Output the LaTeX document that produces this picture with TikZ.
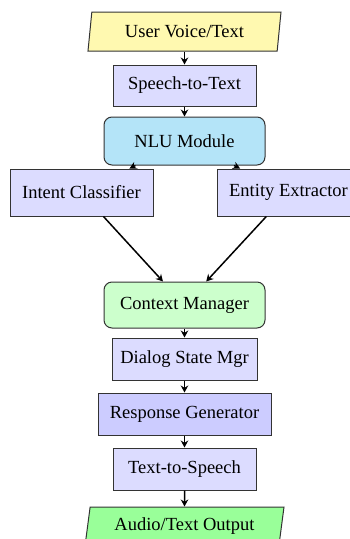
\documentclass[tikz,border=0pt]{standalone}
\usepackage{fontspec}
\setmainfont{Liberation Serif}
\usetikzlibrary{arrows.meta,shapes.geometric}

\definecolor{inputfill}{HTML}{FFF9B0}
\definecolor{procfill}{HTML}{DCDCFF}
\definecolor{genfill}{HTML}{CCCCFF}
\definecolor{nlufill}{HTML}{B4E4F8}
\definecolor{ctxfill}{HTML}{CCFFCC}
\definecolor{outfill}{HTML}{99FF99}
\definecolor{edge}{HTML}{333333}

\tikzset{
  base/.style={draw=edge, line width=1pt, font=\fontsize{18.5}{22}\selectfont, inner sep=0pt},
  procbox/.style={base, rectangle, fill=procfill},
  roundbox/.style={base, rectangle, rounded corners=8pt},
  iobox/.style={base, trapezium, trapezium left angle=73, trapezium right angle=107,
    trapezium stretches body},
  flow/.style={-{Stealth[length=7pt,width=7.5pt]}, line width=1.5pt, black},
}

\begin{document}
\begin{tikzpicture}[x=1pt, y=-1pt]
  \clip (0,0) rectangle (350,539);
  \useasboundingbox (0,0) rectangle (350,539);

  % input and output
  \node[iobox, fill=inputfill, minimum width=193pt, minimum height=39pt] (in) at (184.5,31.5) {User Voice/Text};
  \node[iobox, fill=outfill, minimum width=199pt, minimum height=39pt] (out) at (184.5,526.5) {Audio/Text Output};

  % processing stages
  \node[procbox, minimum width=143pt, minimum height=41pt] (stt) at (184.5,85.5) {Speech-to-Text};
  \node[roundbox, fill=nlufill, minimum width=161pt, minimum height=48pt] (nlu) at (184.5,141) {NLU Module};
  \node[procbox, minimum width=143pt, minimum height=47pt] (intent) at (81.5,192.5) {Intent Classifier};
  \node[procbox, minimum width=143pt, minimum height=47pt] (entity) at (288.5,192.5) {Entity Extractor};
  \node[roundbox, fill=ctxfill, minimum width=161pt, minimum height=46pt] (ctx) at (184.5,305) {Context Manager};
  \node[procbox, minimum width=145pt, minimum height=42pt] (dsm) at (184.5,359) {Dialog State Mgr};
  \node[procbox, fill=genfill, minimum width=173pt, minimum height=42pt] (rg) at (184.5,414) {Response Generator};
  \node[procbox, minimum width=143pt, minimum height=42pt] (tts) at (184.5,469) {Text-to-Speech};

  % connectors
  \draw[flow] (in) -- (stt);
  \draw[flow] (stt) -- (nlu);
  \draw[flow] (nlu) -- (intent);
  \draw[flow] (nlu) -- (entity);
  \draw[flow] (intent) -- (ctx);
  \draw[flow] (entity) -- (ctx);
  \draw[flow] (ctx) -- (dsm);
  \draw[flow] (dsm) -- (rg);
  \draw[flow] (rg) -- (tts);
  \draw[flow] (tts) -- (out);
\end{tikzpicture}
\end{document}
